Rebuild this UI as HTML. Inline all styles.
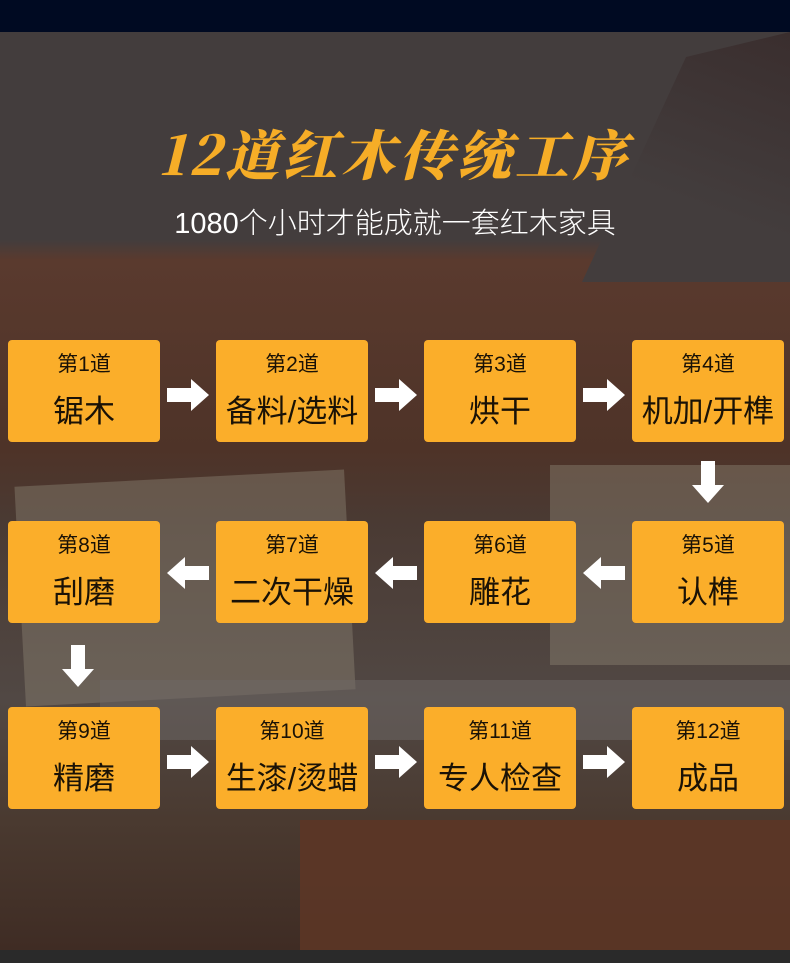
<!DOCTYPE html>
<html><head><meta charset="utf-8"><style>
body{margin:0;width:790px;height:963px;position:relative;overflow:hidden;font-family:"Liberation Sans","Noto Sans CJK SC",sans-serif;
background:linear-gradient(180deg,#433d3d 0,#433d3d 240px,#5a3a2e 260px,#4e3328 450px,#4a3a33 520px,#514844 700px,#4a3a30 820px,#3f2c24 950px);}
.top{position:absolute;left:0;top:0;width:790px;height:32px;background:#000a22}
.bot{position:absolute;left:0;top:950px;width:790px;height:13px;background:#2a2a2a}
.mtn{position:absolute;right:0;top:32px;width:260px;height:250px;background:linear-gradient(200deg,#3a2e2e,#433d3d 60%);clip-path:polygon(100% 0,60% 10%,20% 100%,100% 100%)}
.cush{position:absolute}
.title{position:absolute;left:140px;top:118px;width:510px;text-align:center;color:#f6ad27;font-size:54px;line-height:70px;white-space:nowrap;font-family:"Noto Serif CJK SC","WenQuanYi Zen Hei",serif;font-weight:900;letter-spacing:4px;font-style:italic}
.sub{position:absolute;left:140px;top:200px;width:510px;text-align:center;color:#fff;font-size:29px;white-space:nowrap;font-family:"Liberation Sans","Noto Sans CJK SC",sans-serif;font-weight:300}
.b{position:absolute;width:152px;height:102px;background:#fbae2a;border-radius:4px;text-align:center;color:#1a1206}
.b .s{position:absolute;top:8px;left:0;right:0;font-size:21px}
.b .m{position:absolute;top:46px;left:0;right:0;font-size:31px;white-space:nowrap}
</style></head><body>
<div class="top"></div>
<div class="mtn"></div>
<div class="cush" style="left:20px;top:478px;width:330px;height:220px;background:#8a8070;opacity:.45;transform:rotate(-3deg)"></div>
<div class="cush" style="left:550px;top:465px;width:240px;height:200px;background:#8a8070;opacity:.45"></div>
<div class="cush" style="left:100px;top:680px;width:690px;height:60px;background:#6e6866;opacity:.5"></div>
<div class="cush" style="left:300px;top:820px;width:490px;height:130px;background:#5c3626;opacity:.9"></div>
<div class="title">12道红木传统工序</div>
<div class="sub">1080个小时才能成就一套红木家具</div>

<div class="b" style="left:8px;top:340px"><div class="s">第1道</div><div class="m">锯木</div></div>
<div class="b" style="left:216px;top:340px"><div class="s">第2道</div><div class="m">备料/选料</div></div>
<div class="b" style="left:424px;top:340px"><div class="s">第3道</div><div class="m">烘干</div></div>
<div class="b" style="left:632px;top:340px"><div class="s">第4道</div><div class="m">机加/开榫</div></div>
<div class="b" style="left:8px;top:521px"><div class="s">第8道</div><div class="m">刮磨</div></div>
<div class="b" style="left:216px;top:521px"><div class="s">第7道</div><div class="m">二次干燥</div></div>
<div class="b" style="left:424px;top:521px"><div class="s">第6道</div><div class="m">雕花</div></div>
<div class="b" style="left:632px;top:521px"><div class="s">第5道</div><div class="m">认榫</div></div>
<div class="b" style="left:8px;top:707px"><div class="s">第9道</div><div class="m">精磨</div></div>
<div class="b" style="left:216px;top:707px"><div class="s">第10道</div><div class="m">生漆/烫蜡</div></div>
<div class="b" style="left:424px;top:707px"><div class="s">第11道</div><div class="m">专人检查</div></div>
<div class="b" style="left:632px;top:707px"><div class="s">第12道</div><div class="m">成品</div></div>

<svg width="790" height="963" style="position:absolute;left:0;top:0">
<g fill="#fff">
<polygon points="0,-7 24,-7 24,-16 42,0 24,16 24,7 0,7" transform="translate(167,395)"/>
<polygon points="0,-7 24,-7 24,-16 42,0 24,16 24,7 0,7" transform="translate(375,395)"/>
<polygon points="0,-7 24,-7 24,-16 42,0 24,16 24,7 0,7" transform="translate(583,395)"/>
<polygon points="0,-7 24,-7 24,-16 42,0 24,16 24,7 0,7" transform="translate(708,461) rotate(90)"/>
<polygon points="0,-7 24,-7 24,-16 42,0 24,16 24,7 0,7" transform="translate(625,573) rotate(180)"/>
<polygon points="0,-7 24,-7 24,-16 42,0 24,16 24,7 0,7" transform="translate(417,573) rotate(180)"/>
<polygon points="0,-7 24,-7 24,-16 42,0 24,16 24,7 0,7" transform="translate(209,573) rotate(180)"/>
<polygon points="0,-7 24,-7 24,-16 42,0 24,16 24,7 0,7" transform="translate(78,645) rotate(90)"/>
<polygon points="0,-7 24,-7 24,-16 42,0 24,16 24,7 0,7" transform="translate(167,762)"/>
<polygon points="0,-7 24,-7 24,-16 42,0 24,16 24,7 0,7" transform="translate(375,762)"/>
<polygon points="0,-7 24,-7 24,-16 42,0 24,16 24,7 0,7" transform="translate(583,762)"/>
</g></svg>
<div class="bot"></div>
</body></html>
